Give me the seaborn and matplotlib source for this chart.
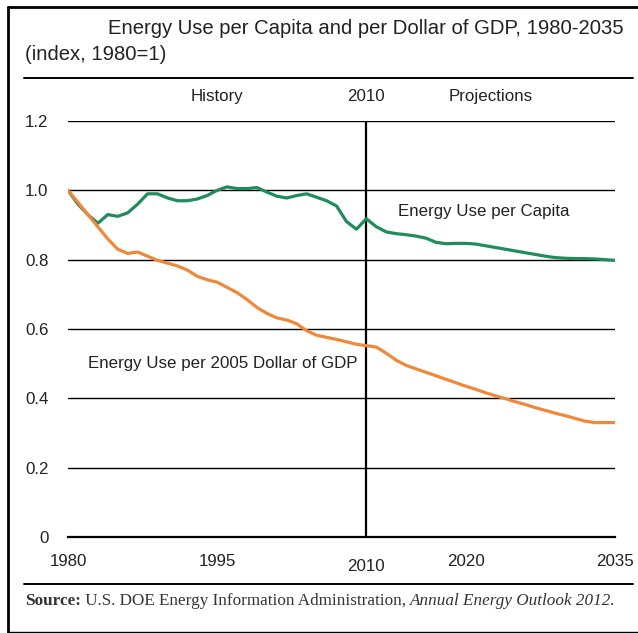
import numpy as np
import pandas as pd
import seaborn as sns
import matplotlib
matplotlib.use("Agg")
import matplotlib.pyplot as plt
from matplotlib import font_manager
from matplotlib.lines import Line2D

# ---------------- data ----------------
years = list(range(1980, 2036))
per_capita = [1.00, 0.96, 0.93, 0.905, 0.93, 0.925, 0.935, 0.96, 0.99, 0.99,
              0.978, 0.970, 0.970, 0.975, 0.985, 1.000, 1.010, 1.005, 1.005, 1.008,
              0.995, 0.983, 0.978, 0.985, 0.990, 0.980, 0.970, 0.955, 0.910, 0.888,
              0.918, 0.895, 0.880, 0.875, 0.872, 0.868, 0.862, 0.850, 0.846, 0.847,
              0.847, 0.845, 0.840, 0.835, 0.830, 0.825, 0.820, 0.815, 0.810, 0.806,
              0.804, 0.803, 0.803, 0.802, 0.800, 0.798]
per_gdp = [1.00, 0.965, 0.930, 0.895, 0.860, 0.830, 0.818, 0.822, 0.810, 0.798,
           0.790, 0.782, 0.770, 0.752, 0.742, 0.735, 0.720, 0.705, 0.685, 0.662,
           0.645, 0.632, 0.626, 0.615, 0.595, 0.582, 0.576, 0.570, 0.563, 0.556,
           0.552, 0.548, 0.530, 0.510, 0.495, 0.485, 0.475, 0.465, 0.455, 0.445,
           0.435, 0.426, 0.416, 0.407, 0.399, 0.390, 0.382, 0.373, 0.365, 0.357,
           0.350, 0.342, 0.334, 0.330, 0.330, 0.330]
series_names = ["Energy Use per Capita", "Energy Use per 2005 Dollar of GDP"]
series_colors = ["#1f8c5c", "#f0883a"]
x_ticks = [1980, 1995, 2010, 2020, 2035]
y_ticks = [0, 0.2, 0.4, 0.6, 0.8, 1.0, 1.2]
y_tick_labels = ["0", "0.2", "0.4", "0.6", "0.8", "1.0", "1.2"]

df = pd.DataFrame({
    "year": years * 2,
    "value": per_capita + per_gdp,
    "series": [series_names[0]] * len(years) + [series_names[1]] * len(years),
})

# ---------------- style ----------------
sns.set_style("white")
avail = {f.name for f in font_manager.fontManager.ttflist}
sans = "Liberation Sans Narrow" if "Liberation Sans Narrow" in avail else "Liberation Sans"
plt.rcParams["font.family"] = [sans, "DejaVu Sans"]
serif = ["Liberation Serif", "DejaVu Serif"]
TXT = "#222222"
FS = 12.2

W, H = 638, 633
fig = plt.figure(figsize=(W / 100, H / 100), dpi=100)
fig.patch.set_facecolor("white")

def fx(px):
    return px / W

def fy(py):
    return 1 - py / H

ax = fig.add_axes([fx(68), fy(537), fx(615) - fx(68), fy(121) - fy(537)])

sns.lineplot(data=df, x="year", y="value", hue="series", palette=series_colors,
             hue_order=series_names, linewidth=2.3, legend=False, ax=ax, zorder=3)
for ln in ax.lines:
    ln.set_solid_joinstyle("round")
    ln.set_solid_capstyle("round")

ax.set_xlim(1980, 2035)
ax.set_ylim(0, 1.2)
ax.set_xlabel("")
ax.set_ylabel("")
ax.set_xticks(x_ticks)
ax.set_xticklabels([str(t) for t in x_ticks], fontsize=FS, color=TXT)
ax.set_yticks(y_ticks)
ax.set_yticklabels(y_tick_labels, fontsize=FS, color=TXT)
for s in ["top", "right", "left"]:
    ax.spines[s].set_visible(False)
ax.spines["bottom"].set_color("black")
ax.spines["bottom"].set_linewidth(1.6)
ax.tick_params(axis="x", direction="out", length=5, width=1.4, color="black", pad=7)
ax.tick_params(axis="y", length=0, pad=14)
ax.xaxis.get_major_ticks()[2].set_pad(11)
for yv in y_ticks[1:]:
    ax.axhline(yv, color="black", linewidth=1.0, zorder=1)
ax.axvline(2010, color="black", linewidth=1.6, zorder=2)

# header labels above the plot
for txt, xv in [("History", 1995), ("2010", 2010), ("Projections", 2022.5)]:
    ax.text(xv, 1.27, txt, ha="center", va="center", fontsize=FS, color=TXT)

# series annotations
ax.text(2013.2, 0.94, series_names[0], ha="left", va="center", fontsize=FS, color=TXT)
ax.text(1982.0, 0.50, series_names[1], ha="left", va="center", fontsize=FS, color=TXT)

# title
fig.text(fx(108), fy(28), "Energy Use per Capita and per Dollar of GDP, 1980-2035",
         ha="left", va="center", fontsize=14.6, color=TXT)
fig.text(fx(25), fy(55), "(index, 1980=1)", ha="left", va="center",
         fontsize=14.6, color=TXT)

# frame and separators
def fline(x0, y0, x1, y1, lw):
    fig.add_artist(Line2D([fx(x0), fx(x1)], [fy(y0), fy(y1)], color="black",
                          linewidth=lw, transform=fig.transFigure))

fline(8, 7, 638, 7, 2.0)
fline(8, 7, 8, 633, 2.0)
fline(8, 632, 638, 632, 1.0)
fline(24, 78, 633, 78, 1.4)
fline(24, 584, 633, 584, 1.4)

# source line with mixed styles
fig.canvas.draw()
r = fig.canvas.get_renderer()
xcur = fx(25)
ysrc = fy(601)
parts = [("Source:", "bold", "normal"),
         (" U.S. DOE Energy Information Administration, ", "normal", "normal"),
         ("Annual Energy Outlook 2012.", "normal", "italic")]
for txt, wt, st in parts:
    t = fig.text(xcur, ysrc, txt, ha="left", va="center", fontsize=12.3,
                 family=serif, weight=wt, style=st, color="#333333")
    bb = t.get_window_extent(renderer=r)
    xcur += bb.width / W

fig.savefig("out.png", dpi=100, facecolor="white")
